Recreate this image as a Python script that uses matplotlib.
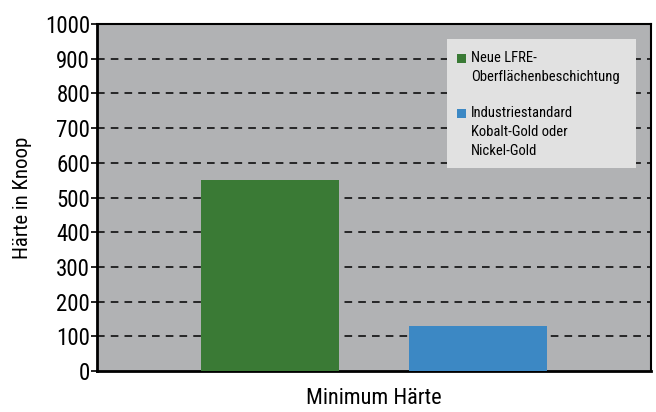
import matplotlib
matplotlib.use("Agg")
import matplotlib.pyplot as plt
from matplotlib.patches import Rectangle

kategorie = "Minimum Härte"
serien = ["Neue LFRE-\nOberflächenbeschichtung",
          "Industriestandard\nKobalt-Gold oder\nNickel-Gold"]
werte = [550, 130]
farben = ["#3a7a35", "#3c88c4"]
y_ticks = [0, 100, 200, 300, 400, 500, 600, 700, 800, 900, 1000]

plt.rcParams['font.family'] = ['Roboto Condensed', 'DejaVu Sans']

W, H = 656, 412
fig = plt.figure(figsize=(W / 100, H / 100), dpi=100)
ax = fig.add_axes([97 / W, 1 - 371 / H, 554 / W, 347 / H])
ax.set_facecolor("#b1b2b4")

offsets = [-0.75, 0.75]
for off, v, c in zip(offsets, werte, farben):
    ax.bar(off, v, width=1.0, color=c, zorder=3)

ax.set_xlim(-2, 2)
ax.set_ylim(0, 1000)
ax.set_yticks(y_ticks)
ax.set_yticklabels([str(t) for t in y_ticks], fontsize=16.5)
ax.set_xticks([])
ax.tick_params(axis='y', direction='out', length=4, width=1.2, pad=1)
for y in y_ticks[1:-1]:
    ax.axhline(y, color='black', linestyle=(0, (5, 4)), linewidth=1.1, zorder=2)

for side in ['left', 'bottom']:
    ax.spines[side].set_linewidth(2)
for side in ['top', 'right']:
    ax.spines[side].set_linewidth(1.5)

ax.set_ylabel("Härte in Knoop", fontsize=15, labelpad=9)
ax.set_xlabel(kategorie, fontsize=16, labelpad=12)


def px(x, y):
    return x / W, 1 - y / H


# Legende
lx0, ly0 = px(447, 168)
lx1, ly1 = px(636, 39)
fig.patches.append(Rectangle((lx0, ly0), lx1 - lx0, ly1 - ly0,
                             transform=fig.transFigure, facecolor="#e1e1e1",
                             edgecolor="none", zorder=5))
sq = [54, 109]
for s, label, c in zip(sq, serien, farben):
    x0, y0 = px(457, s + 9)
    fig.patches.append(Rectangle((x0, y0), 9 / W, 9 / H, transform=fig.transFigure,
                                 facecolor=c, edgecolor="none", zorder=6))
    tx, ty = px(471, s - 3)
    fig.text(tx, ty, label, fontsize=10.5, va='top', ha='left',
             linespacing=1.45, zorder=7)

fig.savefig("out.png", dpi=100)
